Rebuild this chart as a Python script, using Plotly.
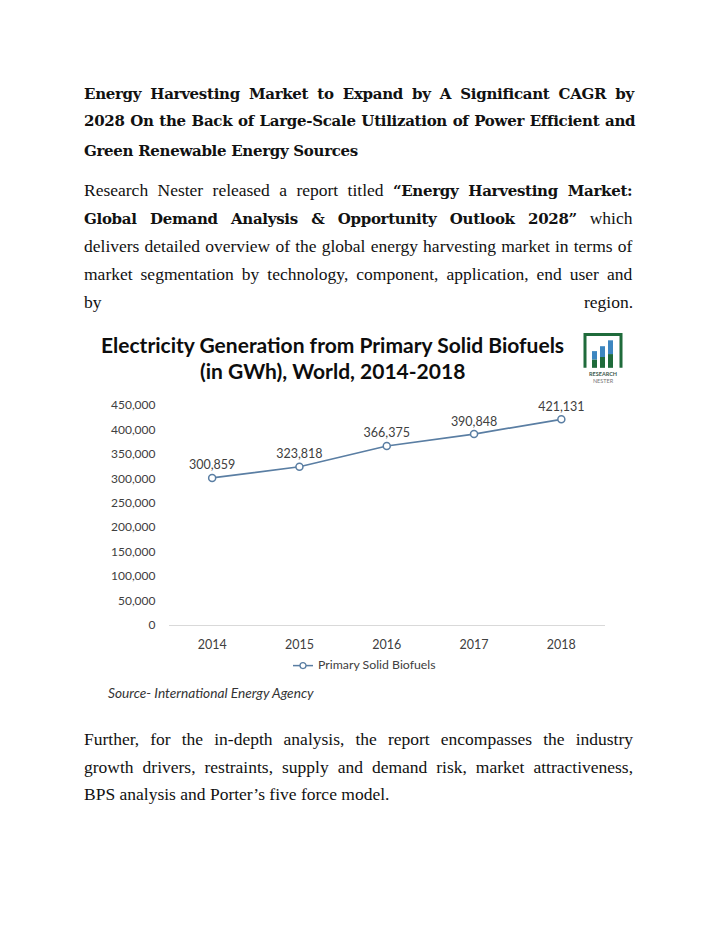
import plotly.graph_objects as go

# page is 720x931, the html body adds an 8px margin round the figure;
# the figure is kept a bit shorter than the page so nothing overflows
PAGE_W = 720
OFF = 8
W, H = PAGE_W - 2 * OFF, 870

years = ['2014', '2015', '2016', '2017', '2018']
biofuels_gwh = [300859, 323818, 366375, 390848, 421131]
y_ticks = [0, 50000, 100000, 150000, 200000, 250000, 300000, 350000, 400000, 450000]
series_name = 'Primary Solid Biofuels'

# each text line: list of (text, bold) runs
heading_lines = [
    [('Energy Harvesting Market to Expand by A Significant CAGR by', True)],
    [('2028 On the Back of Large-Scale Utilization of Power Efficient and', True)],
    [('Green Renewable Energy Sources', True)],
]
intro_lines = [
    [('Research Nester released a report titled ', False), ('“Energy Harvesting Market:', True)],
    [('Global Demand Analysis & Opportunity Outlook 2028”', True), (' which', False)],
    [('delivers detailed overview of the global energy harvesting market in terms of', False)],
    [('market segmentation by technology, component, application, end user and', False)],
]
outro_lines = [
    [('Further, for the in-depth analysis, the report encompasses the industry', False)],
    [('growth drivers, restraints, supply and demand risk, market attractiveness,', False)],
    [('BPS analysis and Porter’s five force model.', False)],
]
chart_title = ['Electricity Generation from Primary Solid Biofuels',
               '(in GWh), World, 2014-2018']
source_text = 'Source- International Energy Agency'

SERIF = 'Liberation Serif'
SERIF_BOLD = 'DejaVu Serif'
SANS = 'Lato'
LINE = '#5a7ea3'
TXT = '#404040'
REG_SIZE = 17.5
BOLD_SIZE = 15
BOLD_LS = -0.3
TEXT_DY = -4   # annotation box centre sits a little above the glyphs


def px(x):
    return (x - OFF) / W


def py(y):
    return 1 - (y - OFF) / H


def note(text, x, y, size, family=SERIF, color='#111', anchor='left', **kw):
    return dict(text=text, x=px(x), y=py(y), xref='paper', yref='paper',
                xanchor=anchor, yanchor='middle', showarrow=False,
                font=dict(family=family, size=size, color=color), **kw)


def runs_html(runs, ws):
    out = ''
    for text, bold in runs:
        if bold:
            style = (f'font-family:{SERIF_BOLD};font-weight:bold;font-size:{BOLD_SIZE}px;'
                     f'letter-spacing:{BOLD_LS}px;word-spacing:{ws}px')
        else:
            style = f'font-family:{SERIF};font-size:{REG_SIZE}px;word-spacing:{ws}px'
        out += f'<span style="{style}">{text}</span>'
    return out


fig = go.Figure()
fig.add_trace(go.Scatter(
    x=years, y=biofuels_gwh, name=series_name,
    mode='lines+markers+text',
    line=dict(color=LINE, width=1.75),
    marker=dict(symbol='circle', size=7, color='white',
                line=dict(color=LINE, width=1.5)),
    text=[f'{v:,}' for v in biofuels_gwh],
    textposition='top center',
    textfont=dict(family=SANS, size=12.5, color=TXT),
    cliponaxis=False, showlegend=False,
))

ann = []
heading_ws = [4.2, 0.8, 0]
heading_y = [91, 119, 149]
for i, runs in enumerate(heading_lines):
    ann.append(note(runs_html(runs, heading_ws[i]), 82, heading_y[i] + TEXT_DY, REG_SIZE))
intro_ws = [5, 8.4, 0.8, 3.6]
for i, runs in enumerate(intro_lines):
    ann.append(note(runs_html(runs, intro_ws[i]), 82, 189 + 28.5 * i + TEXT_DY, REG_SIZE))
ann.append(note('by', 82, 303 + TEXT_DY, REG_SIZE))
ann.append(note('region.', 635, 303 + TEXT_DY, REG_SIZE, anchor='right'))
outro_ws = [6.7, 4.6, 0]
for i, runs in enumerate(outro_lines):
    ann.append(note(runs_html(runs, outro_ws[i]), 82, 748 + 28 * i + TEXT_DY, REG_SIZE))

ann.append(note('<b>' + chart_title[0] + '</b>', 332.5, 342, 21, SANS, '#0d0d0d', 'center'))
ann.append(note('<b>' + chart_title[1] + '</b>', 332.5, 369, 21, SANS, '#0d0d0d', 'center'))
ann.append(note('<i>' + source_text + '</i>', 106, 696, 13.7, SANS, '#333'))

# hand-made legend (short line + open circle, as in the source image)
LEG_Y = 669
ann.append(note(series_name, 316, LEG_Y - 1, 12.3, SANS, TXT))

# Research Nester logo
ann.append(note('<b>RESEARCH</b><br><span style="color:#777">NESTER</span>',
                603, 375.5, 5.5, SANS, '#3b5a4c', 'center', borderpad=0))

GREEN = '#1f6b3b'
BLUE = '#3d86c0'
shapes = [
    dict(type='line', xref='paper', yref='paper', x0=px(293), x1=px(313),
         y0=py(LEG_Y), y1=py(LEG_Y), line=dict(color=LINE, width=1.5)),
    dict(type='circle', xref='paper', yref='paper', x0=px(300), x1=px(306),
         y0=py(LEG_Y + 3), y1=py(LEG_Y - 3), fillcolor='white', line=dict(color=LINE, width=1.3)),
    dict(type='path', xref='paper', yref='paper',
         path=f'M {px(585)},{py(366)} L {px(585)},{py(332)} L {px(621)},{py(332)} L {px(621)},{py(366)}',
         line=dict(color=GREEN, width=3)),
]
for x0, x1, top in [(592, 597, 349), (600, 605, 344), (608, 613, 338)]:
    mid = (top + 366) / 2
    shapes.append(dict(type='rect', xref='paper', yref='paper', x0=px(x0), x1=px(x1),
                       y0=py(366), y1=py(mid), fillcolor=GREEN, line=dict(width=0)))
    shapes.append(dict(type='rect', xref='paper', yref='paper', x0=px(x0), x1=px(x1),
                       y0=py(mid), y1=py(top), fillcolor=BLUE, line=dict(width=0)))

fig.update_layout(
    width=W, height=H,
    margin=dict(l=0, r=0, t=0, b=0),
    paper_bgcolor='white', plot_bgcolor='white',
    annotations=ann, shapes=shapes,
    showlegend=False,
    xaxis=dict(domain=[px(168.5), px(605)], type='category', range=[-0.5, 4.5],
               showgrid=False, zeroline=False, showline=True, linecolor='#d9d9d9',
               linewidth=1, tickfont=dict(family=SANS, size=12.5, color=TXT),
               ticks='', ticklabelstandoff=8),
    yaxis=dict(domain=[py(627.5), py(404)], range=[0, 450000], tickvals=y_ticks,
               tickformat=',d', showgrid=False, zeroline=False, showline=False,
               tickfont=dict(family=SANS, size=12, color=TXT), ticklabelstandoff=12),
)

fig.write_html('out.html')
